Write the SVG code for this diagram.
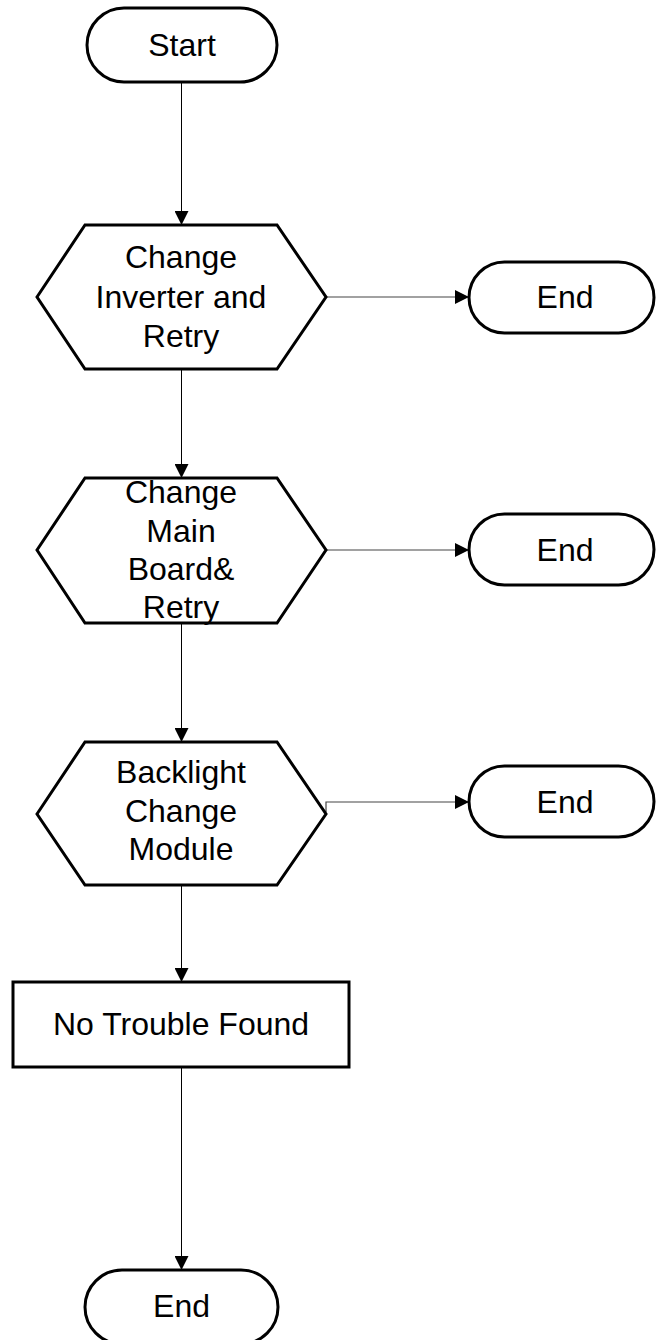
<svg xmlns="http://www.w3.org/2000/svg" width="656" height="1340" viewBox="0 0 656 1340">
<defs>
<style>
.shape{fill:#fff;stroke:#000;stroke-width:3}
.lbl{font-family:"Liberation Sans",Arial,sans-serif;font-size:32px;fill:#000;text-anchor:middle}
.conn{fill:none;stroke:#000;stroke-width:1}
.connh{fill:none;stroke:#444;stroke-width:1.2}
</style>
<marker id="arr" markerWidth="14" markerHeight="14" viewBox="0 0 14 14" refX="14" refY="7" orient="auto" markerUnits="userSpaceOnUse">
<path d="M0,0 L14,7 L0,14 Z" fill="#000"/>
</marker>
</defs>
<g id="connectors">
<path class="conn" d="M181.5,82 V225" marker-end="url(#arr)"/>
<path class="conn" d="M181.5,369 V478" marker-end="url(#arr)"/>
<path class="conn" d="M181.5,623 V742" marker-end="url(#arr)"/>
<path class="conn" d="M181.5,885 V982" marker-end="url(#arr)"/>
<path class="conn" d="M181.5,1067 V1270" marker-end="url(#arr)"/>
<path class="connh" d="M326,297 H469" marker-end="url(#arr)"/>
<path class="connh" d="M326,550 H469" marker-end="url(#arr)"/>
<path class="connh" d="M326,812 V802 H469" marker-end="url(#arr)"/>
</g>
<g id="start">
<rect class="shape" x="87" y="8" width="190" height="74" rx="37"/>
<text class="lbl" x="182" y="56">Start</text>
</g>
<g id="hex1">
<polygon class="shape" points="37,297 85,225 277,225 326,297 277,369 85,369"/>
<text class="lbl" x="181" y="268">Change</text>
<text class="lbl" x="181" y="307.500">Inverter and</text>
<text class="lbl" x="181" y="347">Retry</text>
</g>
<g id="end1">
<rect class="shape" x="469" y="262" width="185" height="71" rx="35.500"/>
<text class="lbl" x="565" y="308">End</text>
</g>
<g id="hex2">
<polygon class="shape" points="37,550 85,478 277,478 326,550 277,623 85,623"/>
<text class="lbl" x="181" y="503">Change</text>
<text class="lbl" x="181" y="541.500">Main</text>
<text class="lbl" x="181" y="580">Board&amp;</text>
<text class="lbl" x="181" y="618">Retry</text>
</g>
<g id="end2">
<rect class="shape" x="469" y="514" width="185" height="71" rx="35.500"/>
<text class="lbl" x="565" y="561">End</text>
</g>
<g id="hex3">
<polygon class="shape" points="37,814 85,742 277,742 326,814 277,885 85,885"/>
<text class="lbl" x="181" y="783">Backlight</text>
<text class="lbl" x="181" y="821.500">Change</text>
<text class="lbl" x="181" y="860">Module</text>
</g>
<g id="end3">
<rect class="shape" x="469" y="766" width="185" height="71" rx="35.500"/>
<text class="lbl" x="565" y="813">End</text>
</g>
<g id="ntf">
<rect class="shape" x="13" y="982" width="336" height="85"/>
<text class="lbl" x="181" y="1035">No Trouble Found</text>
</g>
<g id="end4">
<rect class="shape" x="85" y="1270" width="193" height="74" rx="37"/>
<text class="lbl" x="181.500" y="1317">End</text>
</g>
</svg>
